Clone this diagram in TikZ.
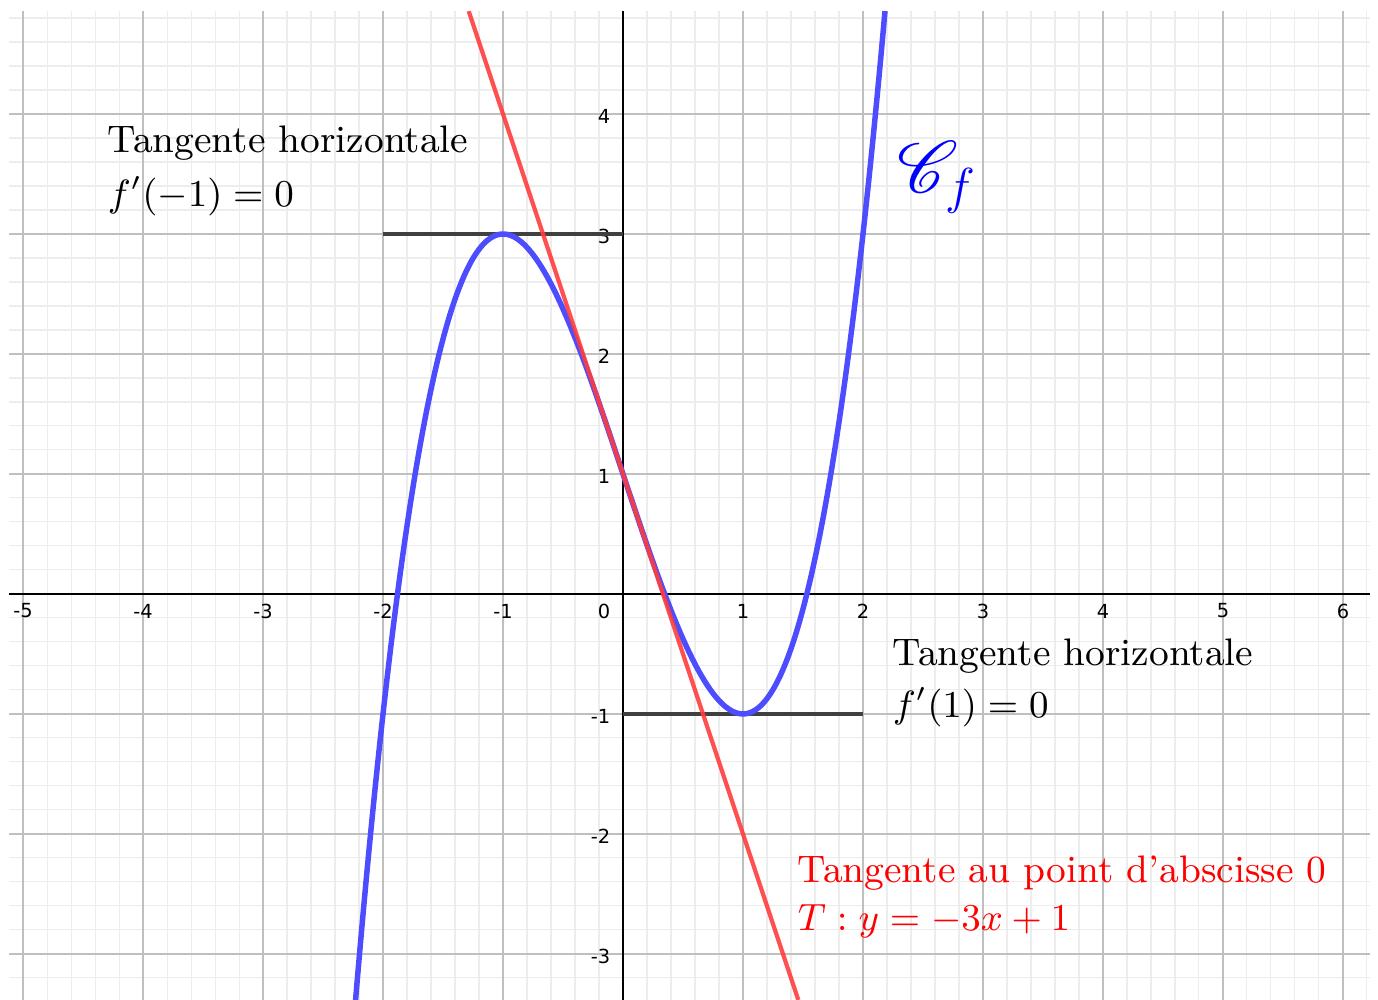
\documentclass[tikz,border=0pt]{standalone}
\usepackage{amsmath,amssymb}
\usepackage{mathrsfs}
\usepackage{fontspec}
\newfontfamily\geofont{DejaVu Sans}
\definecolor{geobleu}{RGB}{77,77,255}
\definecolor{georouge}{RGB}{255,60,60}
\definecolor{geogris}{RGB}{64,64,64}

\begin{document}
\begin{tikzpicture}[
    courbe/.style={line width=1.3pt,geobleu},
    tangente/.style={line width=1pt,georouge,opacity=0.9},
    horiz/.style={line width=1pt,geogris},
    legende/.style={font=\fontsize{9.1}{11}\selectfont,anchor=base west,inner sep=0pt},
    grad/.style={font=\geofont\fontsize{4.6}{5}\selectfont,inner sep=0pt}]
  \useasboundingbox (-5.192,-3.383) rectangle (6.292,4.95);
  % quadrillage
  \draw[line width=0.25pt,black!7,step=0.2] (-5.117,-3.383) grid (6.225,4.858);
  \draw[line width=0.35pt,black!25,step=1] (-5.117,-3.383) grid (6.225,4.858);
  % axes
  \draw[line width=0.5pt] (-5.117,0) -- (6.225,0);
  \draw[line width=0.5pt] (0,-3.383) -- (0,4.858);
  \foreach \x [count=\i] in {-5,-4,-3,-2,-1,1,2,3,4,5,6}
    \node[grad] (gx\i) at (\x,-0.142) {\x};
  \foreach \y [count=\i] in {-3,-2,-1,1,2,3,4}
    \node[grad,anchor=east] (gy\i) at (-0.1,\y-0.02) {\y};
  \node[grad,anchor=east] (orig) at (-0.1,-0.142) {0};
  % tangentes horizontales
  \draw[horiz] (-2,3) -- (0,3);
  \draw[horiz] (0,-1) -- (2,-1);
  % courbe et tangente en 0
  \begin{scope}
    \clip (-5.117,-3.383) rectangle (6.225,4.858);
    \draw[courbe,domain=-2.25:2.2,samples=160,smooth] plot (\x,{\x*\x*\x-3*\x+1});
    \draw[tangente] (-1.286,4.858) -- (1.461,-3.383);
  \end{scope}
  % textes
  \node[legende] (th1) at (-4.3,3.675) {Tangente horizontale};
  \node[legende] (fd1) at (-4.3,3.225) {$f'(-1)=0$};
  \node[legende] (th2) at (2.242,-0.6) {Tangente horizontale};
  \node[legende] (fd2) at (2.242,-1.033) {$f'(1)=0$};
  \node[legende,red] (ta) at (1.45,-2.408) {Tangente au point d'abscisse 0};
  \node[legende,red] (te) at (1.45,-2.808) {$T : y=-3x+1$};
  \node[blue] (cf) at (2.62,3.47) {\fontsize{17}{20}\selectfont$\mathscr{C}_f$};
\end{tikzpicture}
\end{document}
